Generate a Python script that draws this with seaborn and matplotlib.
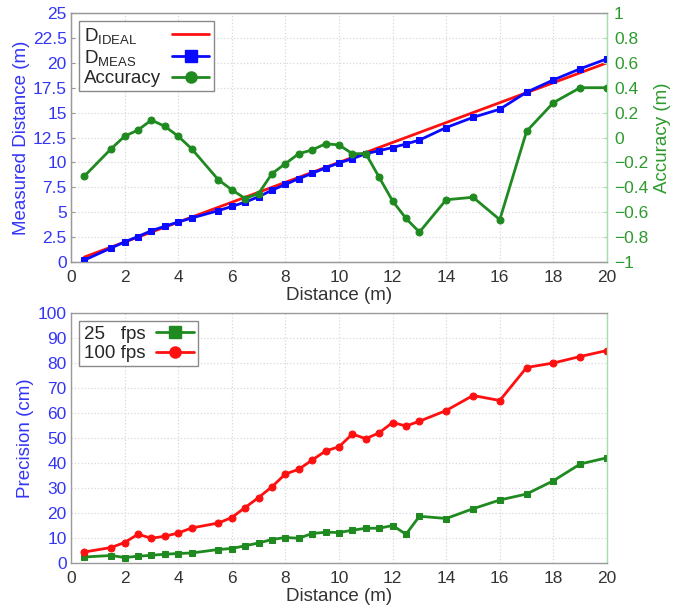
import matplotlib
matplotlib.use("Agg")
import matplotlib.pyplot as plt
from matplotlib import font_manager as fm
from matplotlib.lines import Line2D
import pandas as pd
import seaborn as sns

# Test distances (m)
distance = [0.5, 1.5, 2, 2.5, 3, 3.5, 4, 4.5, 5.5, 6, 6.5, 7, 7.5, 8, 8.5, 9,
            9.5, 10, 10.5, 11, 11.5, 12, 12.5, 13, 14, 15, 16, 17, 18, 19, 20]

# Ideal vs. measured distance (m)
d_ideal = distance
d_meas = [0.19, 1.41, 2.01, 2.56, 3.14, 3.59, 4.01, 4.41, 5.16, 5.58, 6.01,
          6.55, 7.21, 7.79, 8.37, 8.90, 9.45, 9.94, 10.37, 10.87, 11.18, 11.49,
          11.85, 12.24, 13.50, 14.52, 15.34, 17.05, 18.28, 19.40, 20.40]

# Accuracy (m)
accuracy = [-0.31, -0.09, 0.01, 0.06, 0.14, 0.09, 0.01, -0.09, -0.34, -0.42,
            -0.49, -0.45, -0.29, -0.21, -0.13, -0.10, -0.05, -0.06, -0.13,
            -0.13, -0.32, -0.51, -0.65, -0.76, -0.50, -0.48, -0.66, 0.05, 0.28,
            0.40, 0.40]

# Precision (cm) for two frame rates
prec_25 = [2.4, 3.0, 2.2, 2.7, 3.1, 3.5, 3.8, 4.0, 5.4, 5.8, 6.9, 8.0, 9.4,
           10.2, 9.9, 11.8, 12.3, 12.2, 13.1, 13.9, 13.9, 15.0, 11.5, 18.7,
           17.8, 21.7, 25.2, 27.6, 32.9, 39.6, 42.1]
prec_100 = [4.4, 6.2, 8.2, 11.5, 9.9, 10.7, 12.0, 14.0, 16.0, 18.2, 22.2,
            26.2, 30.5, 35.6, 37.5, 41.2, 44.8, 46.5, 51.6, 49.7, 52.1, 56.2,
            54.8, 56.7, 61.0, 67.0, 65.0, 78.2, 80.0, 82.6, 85.0]

x_ticks = [0, 2, 4, 6, 8, 10, 12, 14, 16, 18, 20]
dist_ticks = [0, 2.5, 5, 7.5, 10, 12.5, 15, 17.5, 20, 22.5, 25]
acc_ticks = [-1, -0.8, -0.6, -0.4, -0.2, 0, 0.2, 0.4, 0.6, 0.8, 1]
prec_ticks = [0, 10, 20, 30, 40, 50, 60, 70, 80, 90, 100]

sns.set_style("white")

# Prefer a narrow sans face; fall back to Liberation Sans
available = {f.name for f in fm.fontManager.ttflist}
if "Liberation Sans Narrow" in available:
    FAMILY, SCALE = "Liberation Sans Narrow", 1.15
elif "DejaVu Sans Condensed" in available:
    FAMILY, SCALE = "DejaVu Sans Condensed", 1.0
else:
    FAMILY, SCALE = "Liberation Sans", 1.0
plt.rcParams["font.family"] = [FAMILY, "DejaVu Sans"]
plt.rcParams["mathtext.default"] = "regular"
plt.rcParams["axes.unicode_minus"] = True

RED = "#ff1010"
BLUE = "#0a0aff"
GREEN = "#1f8a1f"
BLUE_TXT = "#3535f5"
GREEN_TXT = "#2e9a2e"
SPINE = "#9a9a9a"
SPINE_R = "#a8dca8"
GRID = "#d8d8e0"

TICK_FS = 12.5 * SCALE
LABEL_FS = 13.5 * SCALE
LEG_FS = 13.5 * SCALE

df_top = pd.DataFrame({"distance": distance, "ideal": d_ideal,
                       "meas": d_meas, "acc": accuracy})
df_bot = pd.DataFrame({"distance": distance, "p25": prec_25, "p100": prec_100})

fig = plt.figure(figsize=(6.86, 6.08), dpi=100)
ax1 = fig.add_axes([71 / 686, 1 - 262 / 608, 536 / 686, 249 / 608])
ax3 = fig.add_axes([71 / 686, 1 - 563 / 608, 536 / 686, 250 / 608])


def style_axes(ax, right_color=SPINE):
    for side in ("top", "left", "bottom"):
        ax.spines[side].set_color(SPINE)
        ax.spines[side].set_linewidth(1.0)
    ax.spines["right"].set_color(right_color)
    ax.spines["right"].set_linewidth(1.0)
    ax.grid(True, linestyle=":", color=GRID, linewidth=0.9)
    ax.set_axisbelow(True)
    ax.tick_params(axis="both", direction="in", length=3, width=0.8,
                   color=SPINE, labelsize=TICK_FS)
    ax.tick_params(axis="x", labelcolor="#333333", pad=6)


def make_legend(ax, handles, labels):
    leg = ax.legend(handles, labels, loc="upper left",
                    bbox_to_anchor=(0.0, 1.0), borderaxespad=0.45,
                    fontsize=LEG_FS, markerfirst=False, handlelength=2.0,
                    handletextpad=0.6, labelspacing=0.12, borderpad=0.22,
                    fancybox=False, framealpha=1, edgecolor="#8a8a8a")
    leg.get_frame().set_linewidth(1.0)
    return leg


# ---- top panel: measured distance and accuracy ----
sns.lineplot(data=df_top, x="distance", y="ideal", ax=ax1, color=RED,
             linewidth=2.0, zorder=2)
sns.lineplot(data=df_top, x="distance", y="meas", ax=ax1, color=BLUE,
             linewidth=2.0, marker="s", markersize=4.5, markeredgecolor=BLUE,
             zorder=3)
ax1.set_xlim(0, 20)
ax1.set_ylim(0, 25)
ax1.set_xticks(x_ticks)
ax1.set_yticks(dist_ticks)
ax1.set_yticklabels([f"{v:g}" for v in dist_ticks])
style_axes(ax1, right_color=SPINE_R)
ax1.tick_params(axis="y", labelcolor=BLUE_TXT, pad=3)
ax1.set_xlabel("Distance (m)", fontsize=LABEL_FS, color="#333333", labelpad=1)
ax1.set_ylabel("Measured Distance (m)", fontsize=LABEL_FS, color=BLUE_TXT,
               labelpad=2)

ax2 = ax1.twinx()
sns.lineplot(data=df_top, x="distance", y="acc", ax=ax2, color=GREEN,
             linewidth=2.0, marker="o", markersize=5, markeredgecolor=GREEN)
ax2.set_ylim(-1, 1)
ax2.set_yticks(acc_ticks)
ax2.set_yticklabels([f"{v:g}".replace("-", "\u2212") for v in acc_ticks])
ax2.spines["right"].set_color(SPINE_R)
for side in ("top", "left", "bottom"):
    ax2.spines[side].set_color(SPINE)
ax2.tick_params(axis="y", direction="in", length=3, color=SPINE_R,
                labelsize=TICK_FS, labelcolor=GREEN_TXT, pad=5)
ax2.set_ylabel("Accuracy (m)", fontsize=LABEL_FS, color=GREEN_TXT, labelpad=4)
ax2.grid(False)

top_handles = [
    Line2D([], [], color=RED, linewidth=2.0),
    Line2D([], [], color=BLUE, linewidth=2.0, marker="s", markersize=8),
    Line2D([], [], color=GREEN, linewidth=2.0, marker="o", markersize=8),
]
top_labels = [r"D$_{IDEAL}$", r"D$_{MEAS}$", "Accuracy"]
leg = make_legend(ax2, top_handles, top_labels)

# ---- bottom panel: precision ----
sns.lineplot(data=df_bot, x="distance", y="p25", ax=ax3, color=GREEN,
             linewidth=2.0, marker="s", markersize=4.5, markeredgecolor=GREEN)
sns.lineplot(data=df_bot, x="distance", y="p100", ax=ax3, color=RED,
             linewidth=2.0, marker="o", markersize=5, markeredgecolor=RED)
ax3.set_xlim(0, 20)
ax3.set_ylim(0, 100)
ax3.set_xticks(x_ticks)
ax3.set_yticks(prec_ticks)
style_axes(ax3, right_color=SPINE_R)
ax3.tick_params(axis="y", labelcolor=BLUE_TXT, pad=3)
ax3.set_xlabel("Distance (m)", fontsize=LABEL_FS, color="#333333", labelpad=1)
ax3.set_ylabel("Precision (cm)", fontsize=LABEL_FS, color=BLUE_TXT, labelpad=3)

bot_handles = [
    Line2D([], [], color=GREEN, linewidth=2.0, marker="s", markersize=8),
    Line2D([], [], color=RED, linewidth=2.0, marker="o", markersize=8),
]
bot_labels = ["25   fps", "100 fps"]
leg2 = make_legend(ax3, bot_handles, bot_labels)

# Left-align the legend labels while keeping the line samples on the right
fig.canvas.draw()
renderer = fig.canvas.get_renderer()
for lg in (leg, leg2):
    texts = lg.get_texts()
    widths = [t.get_window_extent(renderer).width for t in texts]
    wmax = max(widths)
    for t, w in zip(texts, widths):
        t.set_x(-(wmax - w))

fig.savefig("out.png", dpi=100, facecolor="white")
